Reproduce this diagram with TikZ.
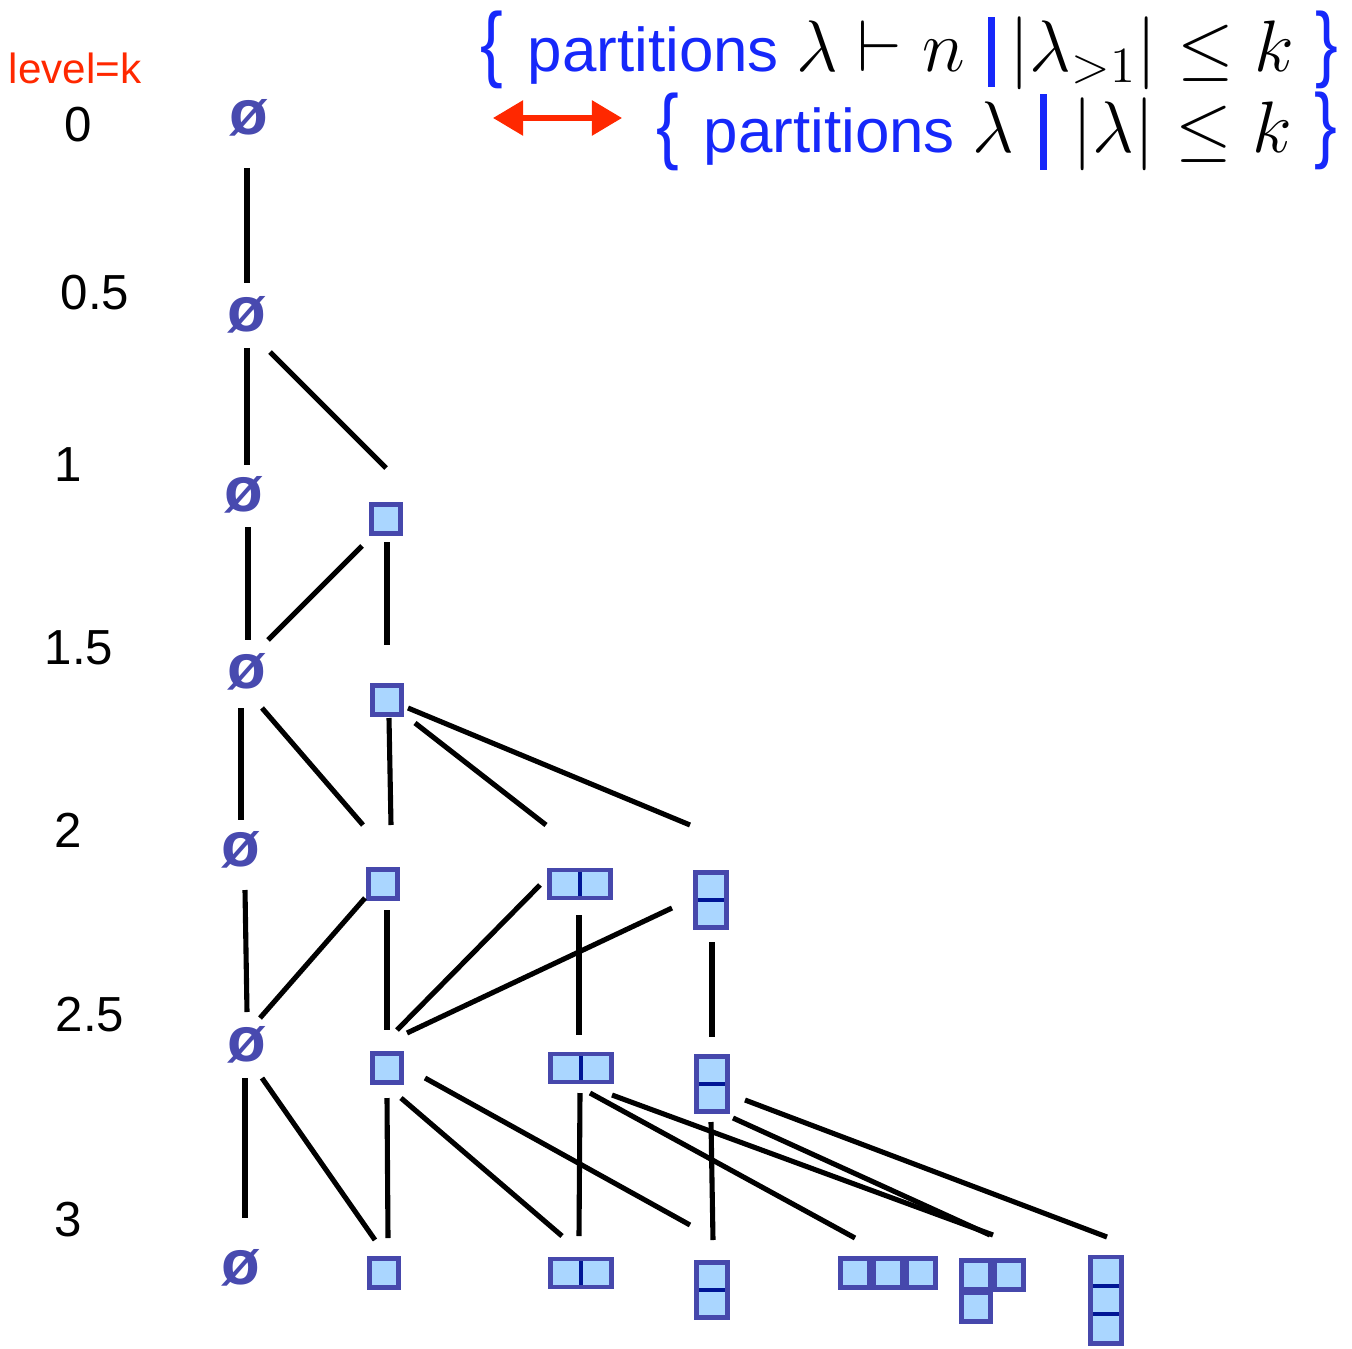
\documentclass[tikz,border=0pt]{standalone}
\usepackage[no-math]{fontspec}
\setmainfont{Liberation Sans}
\usepackage{graphicx}
\usetikzlibrary{arrows.meta,calc}
\definecolor{ydline}{RGB}{70,72,172}
\definecolor{ydfill}{RGB}{170,214,255}
\definecolor{yddiv}{RGB}{0,22,150}
\definecolor{empcol}{RGB}{72,74,175}
\definecolor{setblue}{RGB}{22,40,250}
\definecolor{lvred}{RGB}{255,40,0}
\newcommand{\bigmath}{\fontsize{19.5pt}{22pt}\selectfont}
\tikzset{
  emp/.style={font=\fontsize{18pt}{20pt}\selectfont\bfseries,text=empcol,inner sep=0pt},
  lvl/.style={font=\fontsize{14pt}{16pt}\selectfont,inner sep=0pt},
  cell/.style={rectangle,draw=ydline,fill=ydfill,line width=1.4pt,inner sep=0pt,minimum size=2.9mm},
  dv/.style={draw=yddiv,line width=1.1pt},
  hdom/.style={cell,minimum width=6.1mm,minimum height=2.8mm,
    path picture={\draw[dv] (path picture bounding box.north) -- (path picture bounding box.south);}},
  vdom/.style={cell,minimum width=3.1mm,minimum height=5.5mm,
    path picture={\draw[dv] (path picture bounding box.west) -- (path picture bounding box.east);}},
  vcol/.style={cell,minimum width=3.1mm,minimum height=8.6mm,
    path picture={
      \draw[dv] ($(path picture bounding box.north west)!1/3!(path picture bounding box.south west)$)
             -- ($(path picture bounding box.north east)!1/3!(path picture bounding box.south east)$);
      \draw[dv] ($(path picture bounding box.north west)!2/3!(path picture bounding box.south west)$)
             -- ($(path picture bounding box.north east)!2/3!(path picture bounding box.south east)$);}},
  lnk/.style={draw=black,line width=1.45pt},
  settxt/.style={font=\fontsize{17.6pt}{21pt}\selectfont,inner sep=0pt},
  brc/.style={settxt,text=setblue},
  bar/.style={rectangle,fill=setblue,inner sep=0pt,minimum width=0.7mm},
  dbl/.style={{Triangle[length=3mm,width=3.4mm]}-{Triangle[length=3mm,width=3.4mm]},draw=lvred,line width=1.6pt},
}
\begin{document}
\begin{tikzpicture}[x=0.01cm,y=-0.01cm]
\useasboundingbox (0,0) rectangle (1352,1349);
% ---------------- the two sets
\node[brc] (bl1) at (492,50) {\scalebox{1.1}[1.35]{\{}};
\node[settxt,anchor=base west] (s1) at (527,72) {\textcolor{setblue}{partitions} {\bigmath$\lambda\vdash n$}};
\node[bar,minimum height=7mm] (bar1) at (991,52) {};
\node[settxt,anchor=base west] (s1m) at (1009,72) {\bigmath$|\lambda_{>1}|\le k$};
\node[brc] (br1) at (1327,50) {\scalebox{1.1}[1.35]{\}}};
\coordinate (arL) at (493,118);
\coordinate (arR) at (622,118);
\draw[dbl] (arL) -- (arR);
\node[brc] (bl2) at (668,132) {\scalebox{1.1}[1.35]{\{}};
\node[settxt,anchor=base west] (s2) at (703,153) {\textcolor{setblue}{partitions} {\bigmath$\lambda$}};
\node[bar,minimum height=7.5mm] (bar2) at (1043,132) {};
\node[settxt,anchor=base west] (s2m) at (1072,153) {\bigmath$|\lambda|\le k$};
\node[brc] (br2) at (1326,131) {\scalebox{1.1}[1.35]{\}}};
% ---------------- levels
\node[lvl,text=lvred,font=\fontsize{12pt}{14pt}\selectfont] (lvk) at (75,68) {level=k};
\node[lvl] (l0) at (78,125) {0};
\node[lvl] (l05) at (95,293) {0.5};
\node[lvl] (l1) at (68,465) {1};
\node[lvl] (l15) at (79,648) {1.5};
\node[lvl] (l2) at (68,830) {2};
\node[lvl] (l25) at (90,1015) {2.5};
\node[lvl] (l3) at (68,1220) {3};
% ---------------- empty partitions
\node[emp] (o0) at (249,118) {ø};
\node[emp] (o05) at (247,315) {ø};
\node[emp] (o1) at (244,495) {ø};
\node[emp] (o15) at (247,672) {ø};
\node[emp] (o2) at (241,850) {ø};
\node[emp] (o25) at (247,1045) {ø};
\node[emp] (o3) at (241,1268) {ø};
% ---------------- young diagrams
\node[cell] (b1) at (386,519) {};
\node[cell] (b15) at (387,700) {};
\node[cell] (b2) at (383,884) {};
\node[cell] (b25) at (387,1068) {};
\node[cell] (b3) at (384,1273) {};
\node[hdom] (h2) at (580,884) {};
\node[hdom] (h25) at (581,1068) {};
\node[hdom] (h3) at (581,1273) {};
\node[vdom] (v2) at (711,900) {};
\node[vdom] (v25) at (712,1084) {};
\node[vdom] (v3) at (712,1290) {};
\node[cell] (r1) at (855,1273) {};
\node[cell] (r2) at (888,1273) {};
\node[cell] (r3) at (921,1273) {};
\node[cell] (k1) at (976,1275) {};
\node[cell] (k2) at (1009,1275) {};
\node[cell] (k3) at (976,1307) {};
\node[vcol] (c3) at (1106,1300) {};
% ---------------- 0 -> 1
\draw[lnk] ([shift={(-2,50)}]o0.center) -- ([shift={(0,-32)}]o05.center);
\draw[lnk] ([shift={(0,33)}]o05.center) -- ([shift={(3,-30)}]o1.center);
\draw[lnk] ([shift={(23,37)}]o05.center) -- ([shift={(0,-51)}]b1.center);
% ---------------- 1 -> 2
\draw[lnk] ([shift={(4,32)}]o1.center) -- ([shift={(1,-32)}]o15.center);
\draw[lnk] ([shift={(-24,27)}]b1.center) -- ([shift={(21,-32)}]o15.center);
\draw[lnk] ([shift={(1,23)}]b1.center) -- ([shift={(0,-55)}]b15.center);
\draw[lnk] ([shift={(-6,36)}]o15.center) -- ([shift={(0,-30)}]o2.center);
\draw[lnk] ([shift={(15,36)}]o15.center) -- ([shift={(-20,-59)}]b2.center);
\draw[lnk] ([shift={(2,18)}]b15.center) -- ([shift={(8,-59)}]b2.center);
\draw[lnk] ([shift={(28,23)}]b15.center) -- ([shift={(-34,-59)}]h2.center);
\draw[lnk] ([shift={(21,8)}]b15.center) -- ([shift={(-21,-75)}]v2.center);
% ---------------- 2 -> 3
\draw[lnk] ([shift={(4,40)}]o2.center) -- ([shift={(0,-33)}]o25.center);
\draw[lnk] ([shift={(-18,14)}]b2.center) -- ([shift={(13,-27)}]o25.center);
\draw[lnk] ([shift={(4,26)}]b2.center) -- ([shift={(0,-38)}]b25.center);
\draw[lnk] ([shift={(-40,1)}]h2.center) -- ([shift={(10,-38)}]b25.center);
\draw[lnk] ([shift={(-39,8)}]v2.center) -- ([shift={(20,-35)}]b25.center);
\draw[lnk] ([shift={(-1,31)}]h2.center) -- ([shift={(-2,-33)}]h25.center);
\draw[lnk] ([shift={(1,42)}]v2.center) -- ([shift={(0,-47)}]v25.center);
\draw[lnk] ([shift={(-2,33)}]o25.center) -- ([shift={(4,-50)}]o3.center);
\draw[lnk] ([shift={(15,33)}]o25.center) -- ([shift={(-9,-33)}]b3.center);
\draw[lnk] ([shift={(0,30)}]b25.center) -- ([shift={(4,-35)}]b3.center);
\draw[lnk] ([shift={(14,30)}]b25.center) -- ([shift={(-19,-37)}]h3.center);
\draw[lnk] ([shift={(38,10)}]b25.center) -- ([shift={(-22,-65)}]v3.center);
\draw[lnk] ([shift={(-1,25)}]h25.center) -- ([shift={(-2,-37)}]h3.center);
\draw[lnk] ([shift={(9,25)}]h25.center) -- ([shift={(0,-35)}]r1.center);
\draw[lnk] ([shift={(31,27)}]h25.center) -- ([shift={(17,-40)}]k1.center);
\draw[lnk] ([shift={(-1,38)}]v25.center) -- ([shift={(1,-50)}]v3.center);
\draw[lnk] ([shift={(21,34)}]v25.center) -- ([shift={(14,-40)}]k1.center);
\draw[lnk] ([shift={(33,16)}]v25.center) -- ([shift={(1,-63)}]c3.center);
\end{tikzpicture}
\end{document}
